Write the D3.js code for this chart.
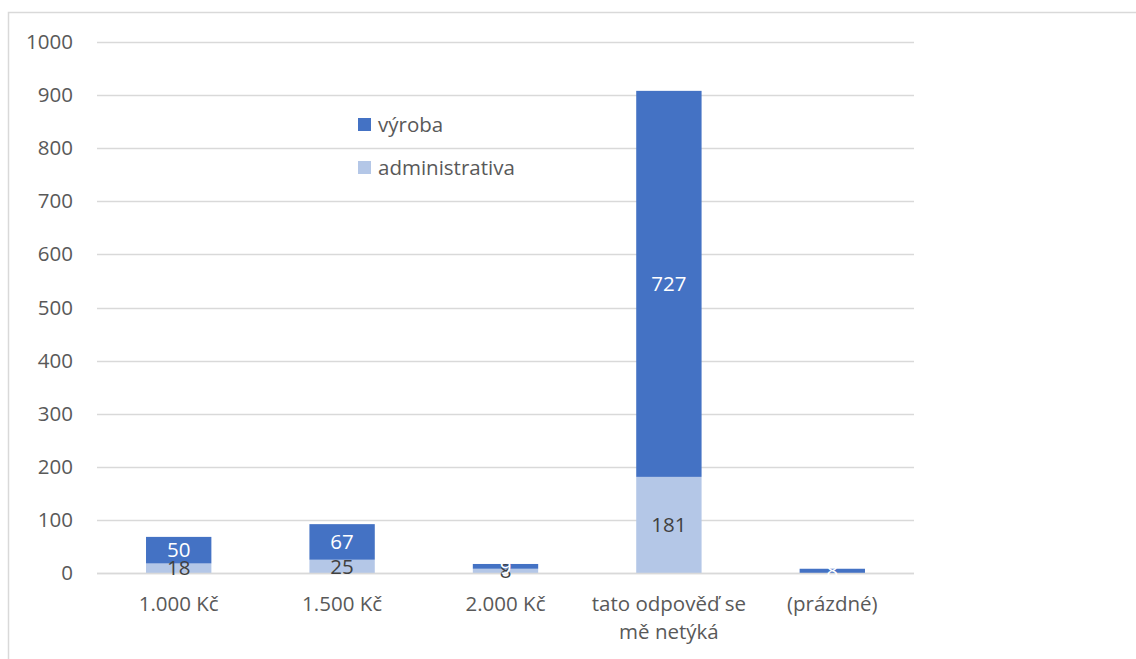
<!DOCTYPE html>
<html>
<head>
<meta charset="utf-8">
<script src="https://cdn.jsdelivr.net/npm/d3@7"></script>
<style>
  html, body { margin: 0; padding: 0; background: #fff; }
  svg { display: block; }
  text { font-family: "Open Sans", Lato, sans-serif; }
</style>
</head>
<body>
<svg id="chart" width="1136" height="659"></svg>
<script>
const categories = ["1.000 Kč", "1.500 Kč", "2.000 Kč", "tato odpověď se|mě netýká", "(prázdné)"];
const administrativa = [18, 25, 8, 181, 0];
const vyroba = [50, 67, 9, 727, 8];
const seriesNames = ["administrativa", "výroba"];
const yTicks = [0, 100, 200, 300, 400, 500, 600, 700, 800, 900, 1000];

const colors = { "administrativa": "#B4C7E7", "výroba": "#4472C4" };
const labelColors = { "administrativa": "#404040", "výroba": "#FFFFFF" };
const FS = "20.5px";

const svg = d3.select("#chart");
const W = 1136, H = 659;

// outer chart border
svg.append("rect")
  .attr("x", 8.5).attr("y", 12.5)
  .attr("width", W + 20).attr("height", H + 20)
  .attr("fill", "none").attr("stroke", "#D9D9D9").attr("stroke-width", 1.5);

const plot = { left: 97, right: 914, top: 42, bottom: 573 };

const x = d3.scaleBand().domain(categories).range([plot.left, plot.right]).paddingInner(0.6).paddingOuter(0.3);
const y = d3.scaleLinear().domain([0, 1000]).range([plot.bottom, plot.top]);

// gridlines
svg.append("g").selectAll("line").data(yTicks).join("line")
  .attr("x1", plot.left).attr("x2", plot.right)
  .attr("y1", d => Math.round(y(d)) + 0.5).attr("y2", d => Math.round(y(d)) + 0.5)
  .attr("stroke", "#D9D9D9").attr("stroke-width", 1.3);

// y axis labels
const yAxis = d3.axisLeft(y).tickValues(yTicks).tickSize(0).tickPadding(24).tickFormat(d3.format("d"));
const gy = svg.append("g").attr("transform", `translate(${plot.left},0)`).call(yAxis);
gy.select(".domain").remove();
gy.selectAll("text").attr("fill", "#595959").style("font-size", FS).style("font-family", "'Open Sans', sans-serif");

// stacked data
const rows = categories.map((c, i) => ({ cat: c, "administrativa": administrativa[i], "výroba": vyroba[i] }));
const stack = d3.stack().keys(seriesNames)(rows);

const layers = svg.append("g").selectAll("g").data(stack).join("g")
  .attr("fill", d => colors[d.key]);
layers.selectAll("rect").data(d => d.map(p => ({ p, key: d.key }))).join("rect")
  .attr("x", d => x(d.p.data.cat))
  .attr("width", x.bandwidth())
  .attr("y", d => y(d.p[1]))
  .attr("height", d => y(d.p[0]) - y(d.p[1]));

// x axis baseline
svg.append("line")
  .attr("x1", plot.left).attr("x2", plot.right)
  .attr("y1", plot.bottom + 0.5).attr("y2", plot.bottom + 0.5)
  .attr("stroke", "#D9D9D9").attr("stroke-width", 1.5);

// data labels
const labelG = svg.append("g");
stack.forEach(layer => {
  layer.forEach(p => {
    const v = p.data[layer.key];
    if (!v) return;
    labelG.append("text")
      .attr("x", x(p.data.cat) + x.bandwidth() / 2)
      .attr("y", (y(p[0]) + y(p[1])) / 2)
      .attr("dy", "0.35em")
      .attr("text-anchor", "middle")
      .attr("fill", labelColors[layer.key])
      .style("font-size", FS)
      .text(v);
  });
});

// x axis labels
const xl = svg.append("g");
categories.forEach(c => {
  const lines = c.split("|");
  const t = xl.append("text")
    .attr("x", x(c) + x.bandwidth() / 2)
    .attr("y", 611)
    .attr("text-anchor", "middle")
    .attr("fill", "#595959")
    .style("font-size", FS);
  lines.forEach((ln, i) => {
    t.append("tspan").attr("x", x(c) + x.bandwidth() / 2).attr("dy", i === 0 ? 0 : 28).text(ln);
  });
});

// legend
const legendItems = ["výroba", "administrativa"];
const lg = svg.append("g").attr("transform", "translate(358,118)");
legendItems.forEach((k, i) => {
  const g = lg.append("g").attr("transform", `translate(0,${i * 43})`);
  g.append("rect").attr("width", 13).attr("height", 13).attr("fill", colors[k]);
  g.append("text").attr("x", 20).attr("y", 6.5).attr("dy", "0.35em")
    .attr("fill", "#595959").style("font-size", FS).text(k);
});
</script>
</body>
</html>
